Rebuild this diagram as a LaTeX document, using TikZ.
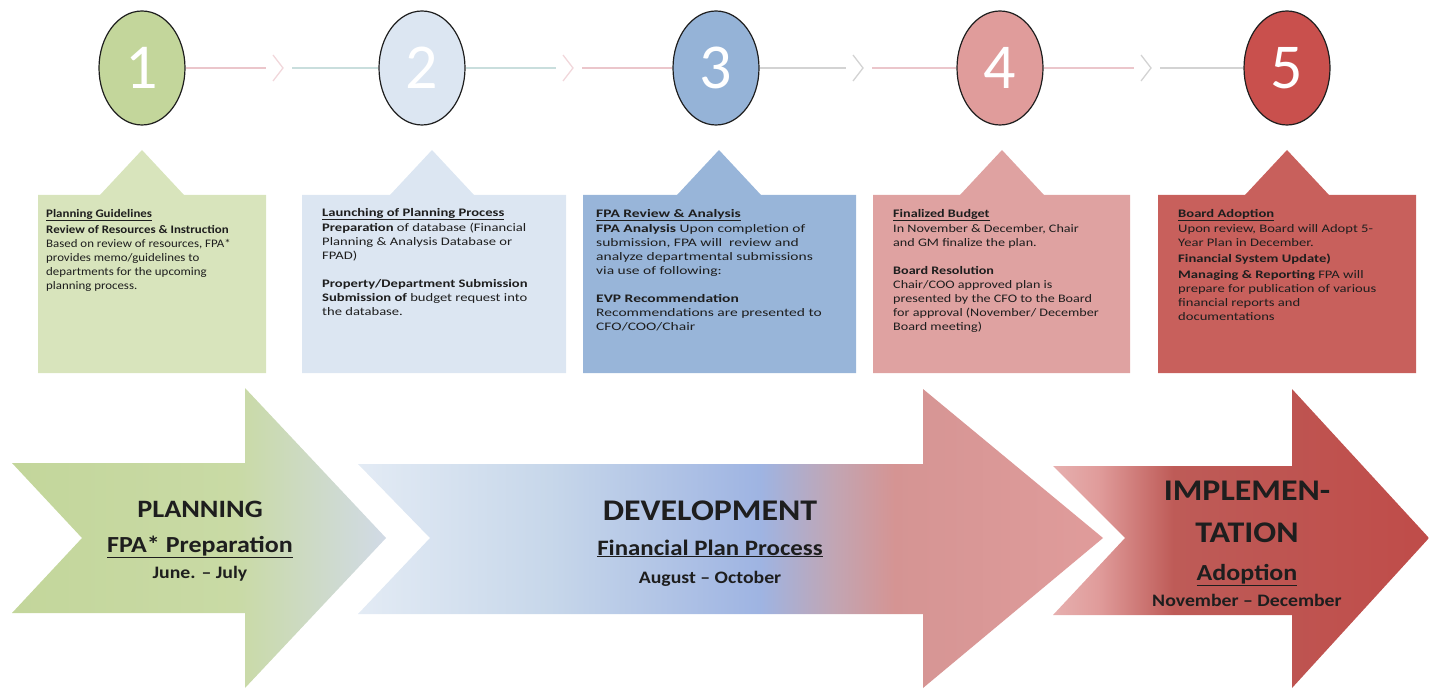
\documentclass[tikz,border=0pt]{standalone}
\usepackage{fontspec}
\setmainfont{Carlito}
\newfontfamily\armfont{Carlito}[FakeStretch=1.13]
\newfontfamily\boxfA{Carlito}[FakeStretch=1.12]
\newfontfamily\boxfB{Carlito}[FakeStretch=1.27]
\newfontfamily\boxfC{Carlito}[FakeStretch=1.35]
\newfontfamily\boxfD{Carlito}[FakeStretch=1.23]
\usetikzlibrary{shapes.geometric,positioning}

\definecolor{grnA}{HTML}{C3D69B}
\definecolor{grnB}{HTML}{D8E4BC}
\definecolor{bluA}{HTML}{DCE6F2}
\definecolor{bluB}{HTML}{95B3D7}
\definecolor{bluC}{HTML}{98B5D9}
\definecolor{rosA}{HTML}{E09C9B}
\definecolor{rosB}{HTML}{DFA2A1}
\definecolor{redA}{HTML}{C9504D}
\definecolor{redB}{HTML}{C8605C}
\definecolor{lnpink}{HTML}{EBC6CB}
\definecolor{lnteal}{HTML}{C9DEDD}
\definecolor{lngrey}{HTML}{D3D3D3}
\definecolor{inkA}{HTML}{1E1E1E}

% fills of the three phase arrows
\pgfdeclarehorizontalshading{planshade}{100bp}{color(0bp)=(grnA); color(25bp)=(grnA);
  color(55bp)=(grnA!90!white); color(75bp)=(bluA!95!black); color(100bp)=(bluA!95!black)}
\pgfdeclarehorizontalshading{devshade}{100bp}{color(0bp)=(bluA!80!white); color(25bp)=(bluA!80!white);
  color(38bp)=(bluA!70!bluB); color(52bp)=(bluB!90!blue!80!white); color(57bp)=(bluB!40!rosA);
  color(61bp)=(rosA!95!black); color(75bp)=(rosA); color(100bp)=(rosA)}
\pgfdeclarehorizontalshading{implshade}{100bp}{color(0bp)=(rosA!80!white); color(25bp)=(rosA!80!white);
  color(31bp)=(rosA); color(41bp)=(redB!95!black); color(75bp)=(redA!95!black); color(100bp)=(redA!95!black)}

\tikzset{
  bub/.style={ellipse,draw=inkA,line width=1.2pt,minimum width=86pt,minimum height=114pt,
    inner sep=0pt,text=white,font=\fontsize{64}{64}\selectfont},
  boxtxt/.style={anchor=north west,inner sep=0pt,align=left,text=inkA,
    font=#1\fontsize{11.5}{14}\selectfont},
  chev/.style={line width=1.3pt},
  big/.style={anchor=base,inner sep=0pt,text=inkA,font=\armfont\bfseries\fontsize{30}{32}\selectfont},
  sub/.style={anchor=base,inner sep=0pt,text=inkA,font=\armfont\bfseries\fontsize{23}{25}\selectfont},
  when/.style={anchor=base,inner sep=0pt,text=inkA,font=\armfont\bfseries\fontsize{17.5}{19}\selectfont}
}

\begin{document}
\begin{tikzpicture}[x=1pt,y=-1pt,line join=miter]
\useasboundingbox (0,0) rectangle (1429,692);

% steps
\node[bub,fill=grnA] (c1) at (142,68) {1};
\node[bub,fill=bluA] (c2) at (422,68) {2};
\node[bub,fill=bluB] (c3) at (716,68) {3};
\node[bub,fill=rosA] (c4) at (1000,68) {4};
\node[bub,fill=redA] (c5) at (1287,68) {5};

\coordinate (k1) at (278,68);
\coordinate (k2) at (568,68);
\coordinate (k3) at (858,68);
\coordinate (k4) at (1146,68);

\draw[lnpink,line width=1.5pt] (c1) -- ([xshift=-12pt]k1);
\draw[chev,lnpink!70] ([xshift=-5pt,yshift=13pt]k1) -- ([xshift=5pt]k1) -- ([xshift=-5pt,yshift=-13pt]k1);
\draw[lnteal,line width=1.5pt] ([xshift=14pt]k1) -- (c2);
\draw[lnteal,line width=1.5pt] (c2) -- ([xshift=-12pt]k2);
\draw[chev,lnpink!70] ([xshift=-5pt,yshift=13pt]k2) -- ([xshift=5pt]k2) -- ([xshift=-5pt,yshift=-13pt]k2);
\draw[lnpink,line width=1.5pt] ([xshift=14pt]k2) -- (c3);
\draw[lngrey,line width=1.5pt] (c3) -- ([xshift=-12pt]k3);
\draw[chev,lngrey] ([xshift=-5pt,yshift=13pt]k3) -- ([xshift=5pt]k3) -- ([xshift=-5pt,yshift=-13pt]k3);
\draw[lnpink,line width=1.5pt] ([xshift=14pt]k3) -- (c4);
\draw[lnpink,line width=1.5pt] (c4) -- ([xshift=-12pt]k4);
\draw[chev,lngrey] ([xshift=-5pt,yshift=13pt]k4) -- ([xshift=5pt]k4) -- ([xshift=-5pt,yshift=-13pt]k4);
\draw[lngrey,line width=1.5pt] ([xshift=14pt]k4) -- (c5);

% callout boxes
\fill[grnB] (38,195) -- (100,195) -- (142,150) -- (184,195) -- (266,195) -- (266,373) -- (38,373) -- cycle;
\fill[bluA] (302,195) -- (390,195) -- (432,150) -- (474,195) -- (566,195) -- (566,373) -- (302,373) -- cycle;
\fill[bluC] (583,195) -- (677,195) -- (719,150) -- (761,195) -- (856,195) -- (856,373) -- (583,373) -- cycle;
\fill[rosB] (873,195) -- (960,195) -- (1002,150) -- (1044,195) -- (1130,195) -- (1130,373) -- (873,373) -- cycle;
\fill[redB] (1158,195) -- (1245,195) -- (1287,150) -- (1329,195) -- (1416,195) -- (1416,373) -- (1158,373) -- cycle;

\node[boxtxt=\boxfA] (t1) at (46,209) {\underline{\textbf{Planning Guidelines}}\\[2pt]
  \textbf{Review of Resources \& Instruction}\\
  Based on review of resources, FPA*\\
  provides memo/guidelines to\\
  departments for the upcoming\\
  planning process.};
\node[boxtxt=\boxfB] (t2) at (322,208) {\underline{\textbf{Launching of Planning Process}}\\[1pt]
  \textbf{Preparation} of database (Financial\\
  Planning \& Analysis Database or\\
  FPAD)\\[14pt]
  \textbf{Property/Department Submission}\\
  \textbf{Submission of} budget request into\\
  the database.};
\node[boxtxt=\boxfC] (t3) at (596,209) {\underline{\textbf{FPA Review \& Analysis}}\\[1pt]
  \textbf{FPA Analysis} Upon completion of\\
  submission, FPA will\ \ review and\\
  analyze departmental submissions\\
  via use of following:\\[14pt]
  \textbf{EVP Recommendation}\\
  Recommendations are presented to\\
  CFO/COO/Chair};
\node[boxtxt=\boxfD] (t4) at (893,209) {\underline{\textbf{Finalized Budget}}\\[1pt]
  In November \& December, Chair\\
  and GM finalize the plan.\\[14pt]
  \textbf{Board Resolution}\\
  Chair/COO approved plan is\\
  presented by the CFO to the Board\\
  for approval (November/ December\\
  Board meeting)};
\node[boxtxt=\boxfB] (t5) at (1178,209) {\underline{\textbf{Board Adoption}}\\[1pt]
  Upon review, Board will Adopt 5-\\
  Year Plan in December.\\[2pt]
  \textbf{Financial System Update)}\\[2pt]
  \textbf{Managing \& Reporting} FPA will\\
  prepare for publication of various\\
  financial reports and\\
  documentations};

% phase arrows
\shade[shading=planshade] (12,463) -- (245,463) -- (245,388) -- (386,538) -- (245,688)
  -- (245,613) -- (12,613) -- (82,538) -- cycle;
\shade[shading=devshade] (358,464) -- (923,464) -- (923,389) -- (1103,538) -- (923,688)
  -- (923,614) -- (358,614) -- (430,538) -- cycle;
\shade[shading=implshade] (1053,466) -- (1292,466) -- (1292,389) -- (1429,538) -- (1292,688)
  -- (1292,615) -- (1053,615) -- (1125,538) -- cycle;

\node[big,font=\armfont\bfseries\fontsize{25}{27}\selectfont] (plan) at (200,517) {PLANNING};
\node[sub] (prep) at (200,552) {\underline{FPA* Preparation}};
\node[when] (jj) at (200,578) {June. – July};

\node[big] (dev) at (710,520) {DEVELOPMENT};
\node[sub,font=\armfont\bfseries\fontsize{22}{24}\selectfont] (fpp) at (710,555) {\underline{Financial Plan Process}};
\node[when] (ao) at (710,583) {August – October};

\node[big] (imp) at (1247,500) {IMPLEMEN-};
\node[big] (tat) at (1247,542) {TATION};
\node[sub] (adop) at (1247,580) {\underline{Adoption}};
\node[when] (nd) at (1247,606) {November – December};
\end{tikzpicture}
\end{document}
